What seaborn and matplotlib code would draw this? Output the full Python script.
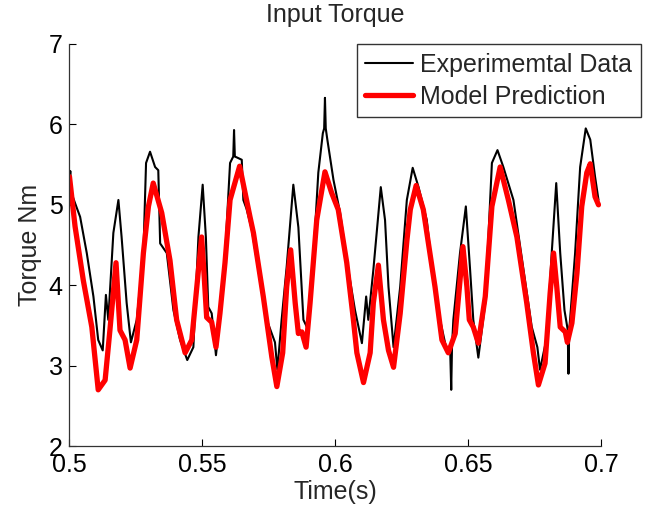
import matplotlib
matplotlib.use("Agg")
import matplotlib.pyplot as plt
import numpy as np
import pandas as pd
import seaborn as sns

# values
exp_time = [
    0.5000, 0.5003, 0.5007, 0.5021, 0.5040, 0.5065, 0.5090, 0.5108, 0.5125, 0.5137,
    0.5146, 0.5165, 0.5184, 0.5196, 0.5215, 0.5231, 0.5253, 0.5278, 0.5288, 0.5303,
    0.5322, 0.5334, 0.5341, 0.5366, 0.5391, 0.5416, 0.5443, 0.5466, 0.5485, 0.5501,
    0.5513, 0.5522, 0.5535, 0.5551, 0.5579, 0.5604, 0.5616, 0.5619, 0.5622, 0.5629,
    0.5648, 0.5654, 0.5666, 0.5686, 0.5717, 0.5742, 0.5773, 0.5782, 0.5798, 0.5817,
    0.5842, 0.5861, 0.5880, 0.5893, 0.5911, 0.5936, 0.5953, 0.5958, 0.5961, 0.5964,
    0.5970, 0.5993, 0.6018, 0.6043, 0.6074, 0.6100, 0.6116, 0.6124, 0.6143, 0.6171,
    0.6187, 0.6200, 0.6219, 0.6244, 0.6269, 0.6291, 0.6313, 0.6344, 0.6369, 0.6394,
    0.6419, 0.6432, 0.6436, 0.6439, 0.6444, 0.6469, 0.6491, 0.6507, 0.6519, 0.6538,
    0.6564, 0.6589, 0.6610, 0.6632, 0.6670, 0.6708, 0.6739, 0.6760, 0.6770, 0.6796,
    0.6814, 0.6831, 0.6846, 0.6862, 0.6874, 0.6877, 0.6880, 0.6883, 0.6902, 0.6921,
    0.6942, 0.6959, 0.6977, 0.6990,
]
exp_torque = [
    5.30, 5.42, 5.15, 5.02, 4.85, 4.40, 3.86, 3.32, 3.19, 3.88,
    3.57, 4.65, 5.06, 4.60, 3.78, 3.29, 3.57, 4.40, 5.52, 5.66,
    5.47, 5.43, 4.52, 4.40, 3.69, 3.32, 3.07, 3.23, 4.60, 5.25,
    4.60, 3.73, 3.65, 3.13, 3.98, 5.52, 5.60, 5.93, 5.60, 5.59,
    5.56, 5.06, 4.95, 4.69, 4.06, 3.57, 3.29, 2.95, 3.57, 4.23,
    5.25, 4.72, 3.57, 3.48, 3.98, 5.40, 5.89, 5.95, 6.33, 5.95,
    5.81, 5.31, 4.90, 4.31, 3.69, 3.28, 3.86, 3.57, 4.19, 5.22,
    4.81, 3.98, 3.23, 3.98, 5.06, 5.46, 5.22, 4.81, 4.06, 3.57,
    3.19, 3.20, 2.70, 3.25, 3.57, 4.40, 4.98, 4.19, 3.57, 3.10,
    3.78, 5.52, 5.68, 5.47, 5.06, 4.19, 3.48, 3.23, 2.95, 3.36,
    4.40, 5.27, 4.40, 3.69, 3.45, 2.90, 3.45, 3.57, 4.40, 5.47,
    5.95, 5.81, 5.35, 5.06,
]

model_time = [
    0.5000, 0.5021, 0.5052, 0.5084, 0.5108, 0.5134, 0.5152, 0.5175, 0.5190, 0.5209,
    0.5228, 0.5253, 0.5278, 0.5297, 0.5315, 0.5347, 0.5378, 0.5403, 0.5435, 0.5460,
    0.5479, 0.5497, 0.5506, 0.5516, 0.5535, 0.5551, 0.5566, 0.5585, 0.5604, 0.5640,
    0.5679, 0.5692, 0.5729, 0.5761, 0.5780, 0.5802, 0.5817, 0.5832, 0.5849, 0.5861,
    0.5874, 0.5890, 0.5905, 0.5930, 0.5961, 0.5986, 0.6011, 0.6043, 0.6068, 0.6081,
    0.6106, 0.6131, 0.6143, 0.6162, 0.6181, 0.6200, 0.6219, 0.6244, 0.6269, 0.6282,
    0.6304, 0.6331, 0.6375, 0.6401, 0.6425, 0.6451, 0.6469, 0.6480, 0.6495, 0.6504,
    0.6519, 0.6538, 0.6564, 0.6589, 0.6620, 0.6651, 0.6683, 0.6720, 0.6745, 0.6764,
    0.6789, 0.6808, 0.6821, 0.6833, 0.6846, 0.6865, 0.6873, 0.6890, 0.6909, 0.6927,
    0.6946, 0.6959, 0.6977, 0.6990,
]
model_torque = [
    5.35, 4.73, 4.06, 3.48, 2.70, 2.82, 3.44, 4.28, 3.44, 3.32,
    2.97, 3.32, 4.40, 4.98, 5.27, 4.90, 4.31, 3.57, 3.16, 3.32,
    3.98, 4.60, 4.15, 3.60, 3.54, 3.23, 3.65, 4.28, 5.06, 5.48,
    4.85, 4.65, 3.86, 3.11, 2.74, 3.16, 3.98, 4.44, 3.78, 3.40,
    3.42, 3.23, 3.78, 4.81, 5.41, 5.15, 4.94, 4.28, 3.57, 3.16,
    2.79, 3.16, 3.78, 4.25, 3.57, 3.19, 2.98, 3.65, 4.55, 4.94,
    5.24, 4.94, 3.98, 3.32, 3.16, 3.40, 4.06, 4.48, 3.98, 3.57,
    3.48, 3.28, 3.86, 4.98, 5.47, 5.06, 4.60, 3.78, 3.16, 2.76,
    3.03, 3.90, 4.40, 3.98, 3.48, 3.42, 3.29, 3.53, 4.15, 4.98,
    5.40, 5.51, 5.10, 5.00,
]

x_ticks = [0.5, 0.55, 0.6, 0.65, 0.7]
x_tick_labels = ["0.5", "0.55", "0.6", "0.65", "0.7"]
y_ticks = [2, 3, 4, 5, 6, 7]

sns.set_theme(style="white")
plt.rcParams["font.family"] = ["Liberation Sans", "DejaVu Sans"]

exp_df = pd.DataFrame({"time": exp_time, "torque": exp_torque})
model_df = pd.DataFrame({"time": model_time, "torque": model_torque})

fig = plt.figure(figsize=(6.65, 5.11), dpi=100)
ax = fig.add_axes([0.1045, 0.127, 0.7995, 0.787])

sns.lineplot(data=exp_df, x="time", y="torque", ax=ax, color="black",
             linewidth=1.5, estimator=None, label="Experimemtal Data")
sns.lineplot(data=model_df, x="time", y="torque", ax=ax, color="red",
             linewidth=3.8, estimator=None, label="Model Prediction")

ax.set_xlim(0.5, 0.7)
ax.set_ylim(2, 7)
ax.set_xticks(x_ticks)
ax.set_xticklabels(x_tick_labels)
ax.set_yticks(y_ticks)
ax.tick_params(direction="in", length=5, width=0.8, colors="black",
               labelsize=18, pad=5, bottom=True, left=True)
for side in ["top", "right"]:
    ax.spines[side].set_visible(False)
for side in ["left", "bottom"]:
    ax.spines[side].set_color("#333333")
    ax.spines[side].set_linewidth(0.9)

ax.set_title("Input Torque", fontsize=18, pad=16)
ax.set_xlabel("Time(s)", fontsize=18, labelpad=2)
ax.set_ylabel("Torque Nm", fontsize=18, labelpad=5)

leg = ax.legend(loc="upper right", bbox_to_anchor=(0.964, 0.914),
                bbox_transform=fig.transFigure, fontsize=18, frameon=True,
                fancybox=False, borderaxespad=0, handlelength=1.9,
                handletextpad=0.3, borderpad=0.35, labelspacing=0.32)
leg.get_frame().set_edgecolor("black")
leg.get_frame().set_linewidth(1.0)

fig.savefig("out.png", dpi=100)
